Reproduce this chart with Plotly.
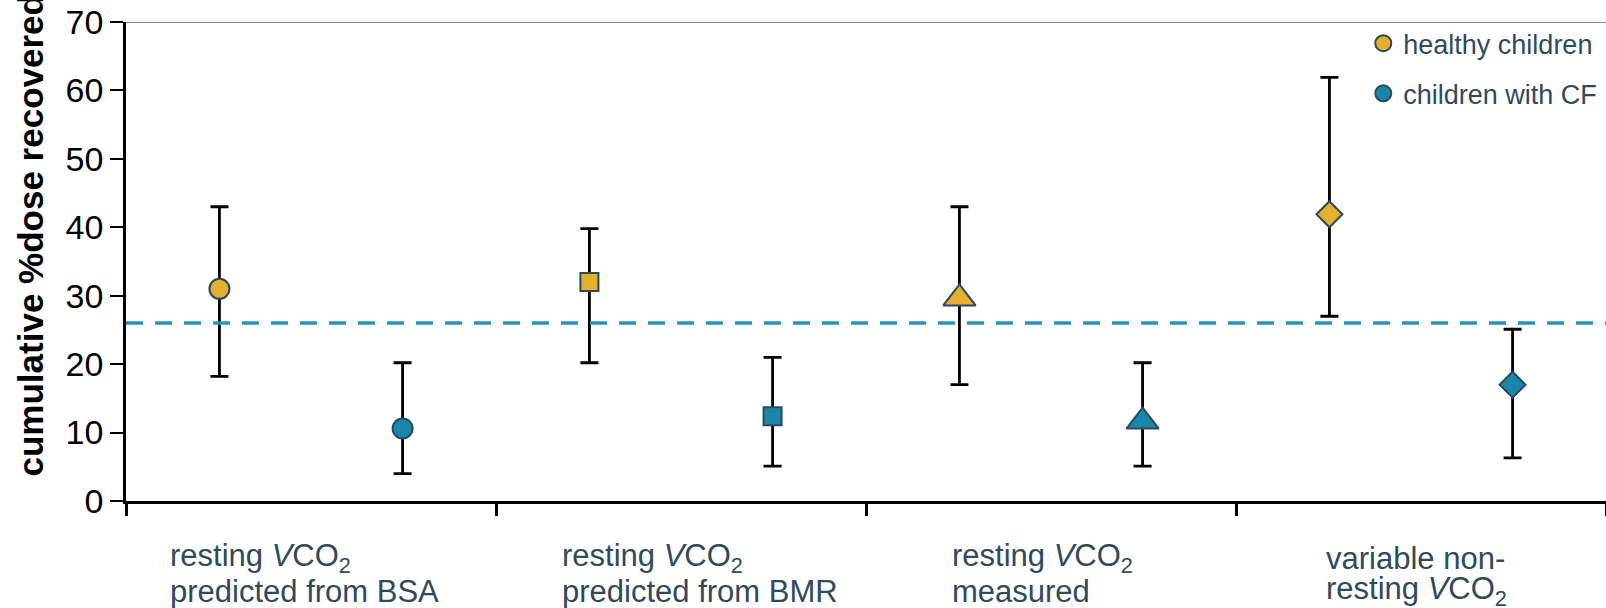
import plotly.graph_objects as go

# ---------------- data ----------------
categories = [
    "resting <i>V</i>CO<sub>2</sub><br>predicted from BSA",
    "resting <i>V</i>CO<sub>2</sub><br>predicted from BMR",
    "resting <i>V</i>CO<sub>2</sub><br>measured",
    "variable non-<br>resting <i>V</i>CO<sub>2</sub>",
]
series_names = ["healthy children", "children with CF"]
healthy_mean = [31.0, 32.0, 29.6, 41.9]
healthy_upper = [43.0, 39.8, 43.0, 61.9]
healthy_lower = [18.2, 20.2, 17.0, 27.0]
cf_mean = [10.6, 12.4, 11.6, 17.0]
cf_upper = [20.2, 21.0, 20.2, 25.1]
cf_lower = [4.0, 5.1, 5.1, 6.3]
reference_level = 26
y_ticks = [0, 10, 20, 30, 40, 50, 60, 70]
y_title = "cumulative %dose recovered"

# ---------------- style ----------------
symbols = ["circle", "square", "triangle-up", "diamond"]
sizes = [20, 18, 28, 20]
colors = ["#E6AF2E", "#1A86AA"]
outline = "#2A4A5E"
text_color = "#2F4A5B"
FONT = "Liberation Sans, Arial, sans-serif"

fig = go.Figure()
for name, mean, up, lo, col in [
    (series_names[0], healthy_mean, healthy_upper, healthy_lower, colors[0]),
    (series_names[1], cf_mean, cf_upper, cf_lower, colors[1]),
]:
    fig.add_trace(go.Scatter(
        x=categories, y=mean, name=name, mode="markers",
        marker=dict(symbol=symbols, size=sizes, color=col, opacity=1,
                    line=dict(color=outline, width=2)),
        error_y=dict(type="data", symmetric=False,
                     array=[u - m for u, m in zip(up, mean)],
                     arrayminus=[m - l for m, l in zip(mean, lo)],
                     color="black", thickness=2.8, width=9),
        legendgroup=name, cliponaxis=False,
    ))

# reference dashed line and top frame line
fig.add_shape(type="line", xref="paper", yref="y", x0=0, x1=1,
              y0=reference_level, y1=reference_level,
              line=dict(color="#2593BA", width=3.5, dash="17px,12px"))
fig.add_shape(type="line", xref="paper", yref="y", x0=0, x1=1,
              y0=y_ticks[-1], y1=y_ticks[-1],
              line=dict(color="#8C8C8C", width=2))

# category labels (left aligned, tight line spacing)
xshifts = [-143, -121, -101, -97]
line_shifts = [-57, -90]
for i, cat in enumerate(categories):
    for j, line in enumerate(cat.split("<br>")):
        fig.add_annotation(x=i, xref="x", y=0, yref="paper", text=line,
                           showarrow=False, xanchor="left", yanchor="middle",
                           xshift=xshifts[i], yshift=line_shifts[j],
                           font=dict(family=FONT, size=31, color=text_color))

# y-axis title (rotated)
fig.add_annotation(x=0, xref="paper", y=0.5, yref="paper", text="<b>" + y_title + "</b>",
                   showarrow=False, textangle=-90, xanchor="center", yanchor="middle",
                   xshift=-96, yshift=26,
                   font=dict(family=FONT, size=35, color="black"))

fig.update_layout(
    width=1606, height=608,
    margin=dict(l=126, r=0, t=22, b=107),
    paper_bgcolor="white", plot_bgcolor="white",
    scattermode="group", scattergap=0.01,
    showlegend=True,
    legend=dict(x=0.836, y=1.006, xanchor="left", yanchor="top",
                font=dict(family=FONT, size=27, color=text_color),
                bgcolor="rgba(0,0,0,0)", tracegroupgap=12),
    xaxis=dict(type="category", range=[-0.5, 3.5], showticklabels=False,
               ticks="outside", tickson="boundaries", ticklen=12, tickwidth=2.5,
               tickcolor="black", showline=True, linecolor="black", linewidth=2.5,
               showgrid=False, zeroline=False),
    yaxis=dict(range=[0, 70], tickvals=y_ticks, ticks="outside", ticklen=13,
               tickwidth=2, tickcolor="black", showline=True, linecolor="black",
               linewidth=2.5, showgrid=False, zeroline=False,
               tickfont=dict(family=FONT, size=34, color="black")),
)

fig.write_html("out.html")
